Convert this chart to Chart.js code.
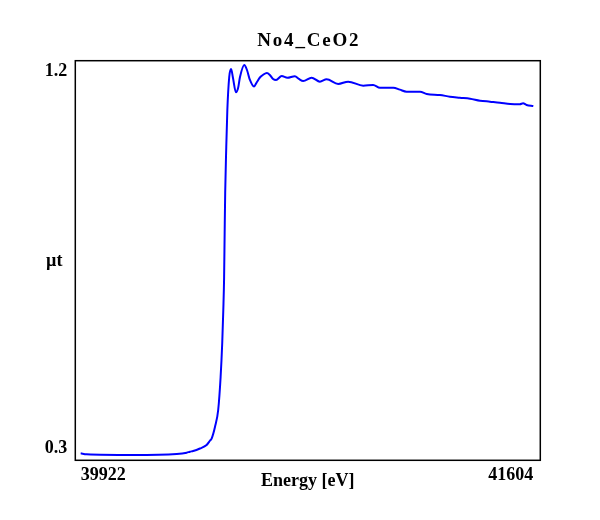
<!DOCTYPE html>
<html>
<head>
<meta charset="utf-8">
<script src="https://cdn.jsdelivr.net/npm/chart.js@4"></script>
<style>
  html, body { margin: 0; padding: 0; background: #fff; }
  #wrap { width: 600px; height: 520px; }
</style>
</head>
<body>
<div id="wrap"><canvas id="c" width="600" height="520"></canvas></div>
<script>
const chartTitle = 'No4_CeO2';
const xTitle = 'Energy [eV]';
const yTitle = 'µt';

const energy = [39922, 39944, 40116, 40279, 40316, 40328, 40340, 40365, 40390, 40403,
  40409, 40421, 40433, 40442, 40448, 40452, 40455, 40457, 40459, 40463,
  40467, 40474, 40481, 40488, 40499, 40507, 40514, 40530, 40540, 40551,
  40566, 40577, 40588, 40599, 40614, 40625, 40637, 40648, 40669, 40690,
  40718, 40733, 40749, 40780, 40811, 40836, 40879, 40916, 40972, 41009,
  41034, 41084, 41108, 41133, 41183, 41208, 41257, 41294, 41331, 41369,
  41406, 41443, 41480, 41518, 41554, 41566, 41579, 41604];
const mu = [0.2880, 0.2857, 0.2840, 0.2864, 0.2895, 0.2919, 0.2935, 0.2995, 0.3079, 0.3186,
  0.3239, 0.3509, 0.3915, 0.4704, 0.5517, 0.6305, 0.7094, 0.8146, 0.9102, 1.0201,
  1.1085, 1.1874, 1.2065, 1.1850, 1.1508, 1.1611, 1.1874, 1.2161, 1.2041, 1.1802,
  1.1647, 1.1755, 1.1862, 1.1922, 1.1970, 1.1922, 1.1826, 1.1802, 1.1898, 1.1855,
  1.1893, 1.1826, 1.1778, 1.1857, 1.1762, 1.1819, 1.1707, 1.1762, 1.1666, 1.1683,
  1.1618, 1.1618, 1.1571, 1.1523, 1.1523, 1.1468, 1.1444, 1.1403, 1.1379, 1.1356,
  1.1308, 1.1284, 1.1260, 1.1229, 1.1222, 1.1246, 1.1205, 1.1181];

const xTickValues = [39922, 41604];
const xTickLabels = ['39922', '41604'];
const yTickValues = [0.3, 1.2];
const yTickLabels = ['0.3', '1.2'];

const xMin = 39902, xMax = 41630;
const yMin = 0.2713, yMax = 1.2263;

const FAMILY = '"Liberation Serif", "Times New Roman", serif';
const FONT = { family: FAMILY, size: 18, weight: 'bold' };

const points = energy.map((e, i) => ({ x: e, y: mu[i] }));

const framePlugin = {
  id: 'frame',
  afterDatasetsDraw(chart) {
    const { ctx, chartArea: a } = chart;
    ctx.save();
    ctx.strokeStyle = '#000';
    ctx.lineWidth = 1.5;
    ctx.strokeRect(a.left, a.top, a.right - a.left, a.bottom - a.top);
    ctx.restore();
  },
  afterDraw(chart) {
    const { ctx, chartArea: a } = chart;
    ctx.save();
    ctx.fillStyle = '#000';
    ctx.font = 'bold 18px ' + FAMILY;
    ctx.textAlign = 'center';
    ctx.textBaseline = 'middle';
    ctx.fillText(yTitle, a.left - 21, (a.top + a.bottom) / 2 + 1);
    ctx.font = 'bold 19px ' + FAMILY;
    if ('letterSpacing' in ctx) ctx.letterSpacing = '1.8px';
    ctx.fillText(chartTitle, (a.left + a.right) / 2 + 1, 41.5);
    ctx.restore();
  }
};

new Chart(document.getElementById('c'), {
  type: 'line',
  data: {
    datasets: [{
      data: points,
      borderColor: '#0000FF',
      borderWidth: 2,
      pointRadius: 0,
      fill: false,
      cubicInterpolationMode: 'monotone'
    }]
  },
  options: {
    responsive: false,
    animation: false,
    devicePixelRatio: 1,
    layout: { padding: { left: 36.8, right: 59.7, top: 60.7, bottom: 28 } },
    plugins: {
      legend: { display: false },
      tooltip: { enabled: false },
      title: { display: false }
    },
    scales: {
      x: {
        type: 'linear',
        min: xMin,
        max: xMax,
        grid: { display: false, drawTicks: false },
        border: { display: false },
        afterBuildTicks: (s) => { s.ticks = xTickValues.map(v => ({ value: v })); },
        ticks: {
          align: 'inner',
          padding: 4,
          color: '#000',
          font: FONT,
          maxRotation: 0,
          autoSkip: false,
          callback: (v) => { const i = xTickValues.indexOf(v); return i >= 0 ? xTickLabels[i] : ''; }
        },
        title: {
          display: true,
          text: xTitle,
          color: '#000',
          font: FONT,
          padding: { top: -19.5, bottom: 0 }
        }
      },
      y: {
        type: 'linear',
        min: yMin,
        max: yMax,
        grid: { display: false, drawTicks: false },
        border: { display: false },
        afterBuildTicks: (s) => { s.ticks = yTickValues.map(v => ({ value: v })); },
        ticks: {
          padding: 8,
          color: '#000',
          font: FONT,
          autoSkip: false,
          callback: (v) => { const i = yTickValues.indexOf(v); return i >= 0 ? yTickLabels[i] : ''; }
        }
      }
    }
  },
  plugins: [framePlugin]
});
</script>
</body>
</html>
